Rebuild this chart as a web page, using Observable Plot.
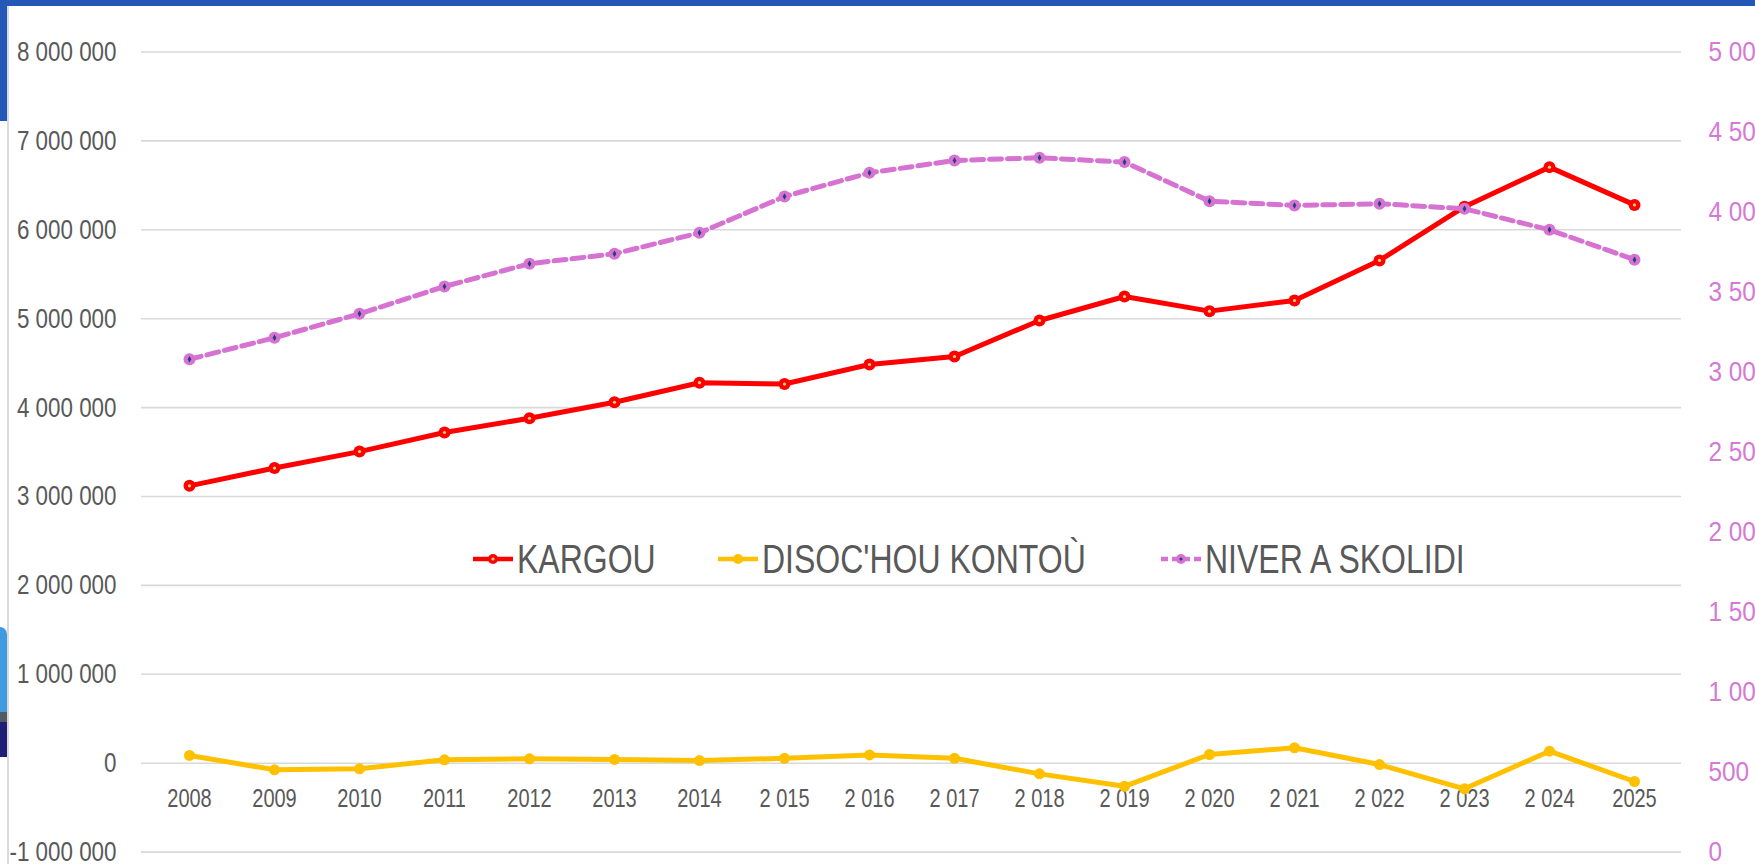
<!DOCTYPE html>
<html>
<head>
<meta charset="utf-8">
<script src="https://cdn.jsdelivr.net/npm/d3@7"></script>
<script src="https://cdn.jsdelivr.net/npm/@observablehq/plot@0.6"></script>
<style>
  html, body { margin: 0; padding: 0; background: #fff; overflow: hidden; }
  #wrap { position: relative; width: 1755px; height: 864px; overflow: hidden; background: #fff;
          font-family: "Liberation Sans", Arial, sans-serif; }
  #wrap > svg { position: absolute; left: 0; top: 0; }
  .deco { position: absolute; }
  .legend-item { position: absolute; top: 535px; height: 48px; display: flex; align-items: center;
                 font-size: 40px; color: #595959; white-space: nowrap; }
  .legend-item svg { position: static; margin-right: 4px; flex: none; }
  .legend-item span { display: inline-block; transform: scaleX(0.8); transform-origin: 0 50%; }
</style>
</head>
<body>
<div id="wrap"></div>
<script>
// ---- data ----
const years = [2008, 2009, 2010, 2011, 2012, 2013, 2014, 2015, 2016, 2017, 2018, 2019, 2020, 2021, 2022, 2023, 2024, 2025];
const xLabels = ["2008", "2009", "2010", "2011", "2012", "2013", "2014", "2 015", "2 016", "2 017", "2 018", "2 019", "2 020", "2 021", "2 022", "2 023", "2 024", "2025"];
const kargou = [3120000, 3320000, 3505000, 3720000, 3880000, 4060000, 4280000, 4265000, 4485000, 4575000, 4980000, 5250000, 5085000, 5205000, 5655000, 6260000, 6705000, 6280000];
const disoc = [87000, -74000, -63000, 38000, 49000, 43000, 30000, 55000, 93000, 55000, -120000, -260000, 98000, 173000, -15000, -288000, 135000, -206000];
const niver = [3080, 3214, 3364, 3535, 3677, 3739, 3870, 4097, 4245, 4322, 4339, 4312, 4068, 4041, 4052, 4020, 3889, 3702];
const leftTicks = [-1000000, 0, 1000000, 2000000, 3000000, 4000000, 5000000, 6000000, 7000000, 8000000];
const leftLabels = ["-1 000 000", "0", "1 000 000", "2 000 000", "3 000 000", "4 000 000", "5 000 000", "6 000 000", "7 000 000", "8 000 000"];
const rightTicks = [0, 500, 1000, 1500, 2000, 2500, 3000, 3500, 4000, 4500, 5000];
const rightLabels = ["0", "500", "1 000", "1 500", "2 000", "2 500", "3 000", "3 500", "4 000", "4 500", "5 000"];
const seriesNames = ["KARGOU", "DISOC'HOU KONTOÙ", "NIVER A SKOLIDI"];

// ---- colours ----
const RED = "#ff0000", GOLD = "#ffc000", PINK = "#d672d2", PINK_TXT = "#d47ad4", GREY = "#595959";

// secondary axis mapped onto primary scale
const leftMin = leftTicks[0], leftMax = leftTicks[leftTicks.length - 1];
const rightMax = rightTicks[rightTicks.length - 1];
const toLeft = v => leftMin + v * (leftMax - leftMin) / rightMax;

const rows = years.map((y, i) => ({year: y, kargou: kargou[i], disoc: disoc[i], niver: toLeft(niver[i])}));
const xLabelMap = new Map(years.map((y, i) => [y, xLabels[i]]));
const leftLabelMap = new Map(leftTicks.map((t, i) => [t, leftLabels[i]]));
const rightPos = rightTicks.map(toLeft);
const rightLabelMap = new Map(rightPos.map((t, i) => [t, rightLabels[i]]));

const chart = Plot.plot({
  width: 1755,
  height: 864,
  marginLeft: 141,
  marginRight: 74,
  marginTop: 51.5,
  marginBottom: 12.4,
  style: {background: "transparent", fontFamily: "'Liberation Sans', Arial, sans-serif", overflow: "hidden"},
  x: {type: "point", domain: years, padding: 0.5, axis: null},
  y: {domain: [leftMin, leftMax], axis: null},
  marks: [
    Plot.gridY(leftTicks, {stroke: "#d9d9d9", strokeOpacity: 1, strokeWidth: 1.6}),
    Plot.axisY({ticks: leftTicks, anchor: "left", label: null, tickSize: 0, tickPadding: 25, fontSize: 28, fill: GREY,
                tickFormat: d => leftLabelMap.get(d), ariaLabel: "left-axis"}),
    Plot.axisY({ticks: rightPos, anchor: "right", label: null, tickSize: 0, tickPadding: 27, fontSize: 28, fill: PINK_TXT,
                tickFormat: d => rightLabelMap.get(d), ariaLabel: "right-axis"}),
    Plot.axisX({ticks: years, anchor: "bottom", label: null, tickSize: 0, tickPadding: 0, dy: -63, fontSize: 25, fill: GREY,
                tickFormat: d => xLabelMap.get(d)}),
    Plot.line(rows, {x: "year", y: "disoc", stroke: GOLD, strokeWidth: 5}),
    Plot.dot(rows, {x: "year", y: "disoc", r: 5.5, fill: GOLD}),
    Plot.line(rows, {x: "year", y: "kargou", stroke: RED, strokeWidth: 5}),
    Plot.dot(rows, {x: "year", y: "kargou", r: 6, fill: RED}),
    Plot.dot(rows, {x: "year", y: "kargou", r: 1.6, fill: "#ffd27a"}),
    Plot.line(rows, {x: "year", y: "niver", stroke: PINK, strokeWidth: 5, strokeDasharray: "12,6"}),
    Plot.dot(rows, {x: "year", y: "niver", r: 6, fill: PINK}),
    Plot.dot(rows, {x: "year", y: "niver", r: 2, fill: "#27407a", symbol: "diamond"})
  ]
});

// condense the tick labels horizontally (narrow typeface look), scaling about each text's anchor
chart.querySelectorAll('g[aria-label$="tick label"] text').forEach(t => {
  const g = t.parentNode;
  const isRight = g && g.getAttribute("aria-label") && g.getAttribute("aria-label").startsWith("right-axis");
  const tr = t.getAttribute("transform") || "";
  t.setAttribute("transform", tr + (isRight ? " scale(0.87,1)" : " scale(0.8,1)"));
});

const wrap = document.getElementById("wrap");
wrap.appendChild(chart);

// ---- legend (overlay) ----
const legendDefs = [
  {name: seriesNames[0], color: RED, left: 473, dash: null, inner: "#ffd27a"},
  {name: seriesNames[1], color: GOLD, left: 718, dash: null, inner: null},
  {name: seriesNames[2], color: PINK, left: 1161, dash: "7,4", inner: "#27407a"}
];
legendDefs.forEach(d => {
  const item = document.createElement("div");
  item.className = "legend-item";
  item.style.left = d.left + "px";
  const ns = "http://www.w3.org/2000/svg";
  const s = document.createElementNS(ns, "svg");
  s.setAttribute("width", 40); s.setAttribute("height", 20);
  const ln = document.createElementNS(ns, "line");
  ln.setAttribute("x1", 0); ln.setAttribute("x2", 40); ln.setAttribute("y1", 10); ln.setAttribute("y2", 10);
  ln.setAttribute("stroke", d.color); ln.setAttribute("stroke-width", 4.5);
  if (d.dash) ln.setAttribute("stroke-dasharray", d.dash);
  s.appendChild(ln);
  const c = document.createElementNS(ns, "circle");
  c.setAttribute("cx", 20); c.setAttribute("cy", 10); c.setAttribute("r", 5); c.setAttribute("fill", d.color);
  s.appendChild(c);
  if (d.inner) {
    const c2 = document.createElementNS(ns, "circle");
    c2.setAttribute("cx", 20); c2.setAttribute("cy", 10); c2.setAttribute("r", 1.6); c2.setAttribute("fill", d.inner);
    s.appendChild(c2);
  }
  item.appendChild(s);
  const t = document.createElement("span");
  t.textContent = d.name;
  item.appendChild(t);
  wrap.appendChild(item);
});

// ---- slide decorations around the chart ----
const decos = [
  {left: 0, top: 0, width: 1755, height: 6, bg: "#2358b9"},
  {left: 0, top: 0, width: 7, height: 121, bg: "#2358b9"},
  {left: 7, top: 6, width: 1.5, height: 858, bg: "#d9d9d9"},
  {left: 0, top: 627, width: 7, height: 96, bg: "#3f9be0", radius: "0 7px 0 0"},
  {left: 0, top: 712, width: 7, height: 10, bg: "#555a66"},
  {left: 0, top: 722, width: 7, height: 35, bg: "#1f1f78"}
];
decos.forEach(d => {
  const e = document.createElement("div");
  e.className = "deco";
  Object.assign(e.style, {left: d.left + "px", top: d.top + "px", width: d.width + "px", height: d.height + "px", background: d.bg});
  if (d.radius) e.style.borderRadius = d.radius;
  wrap.appendChild(e);
});
</script>
</body>
</html>
